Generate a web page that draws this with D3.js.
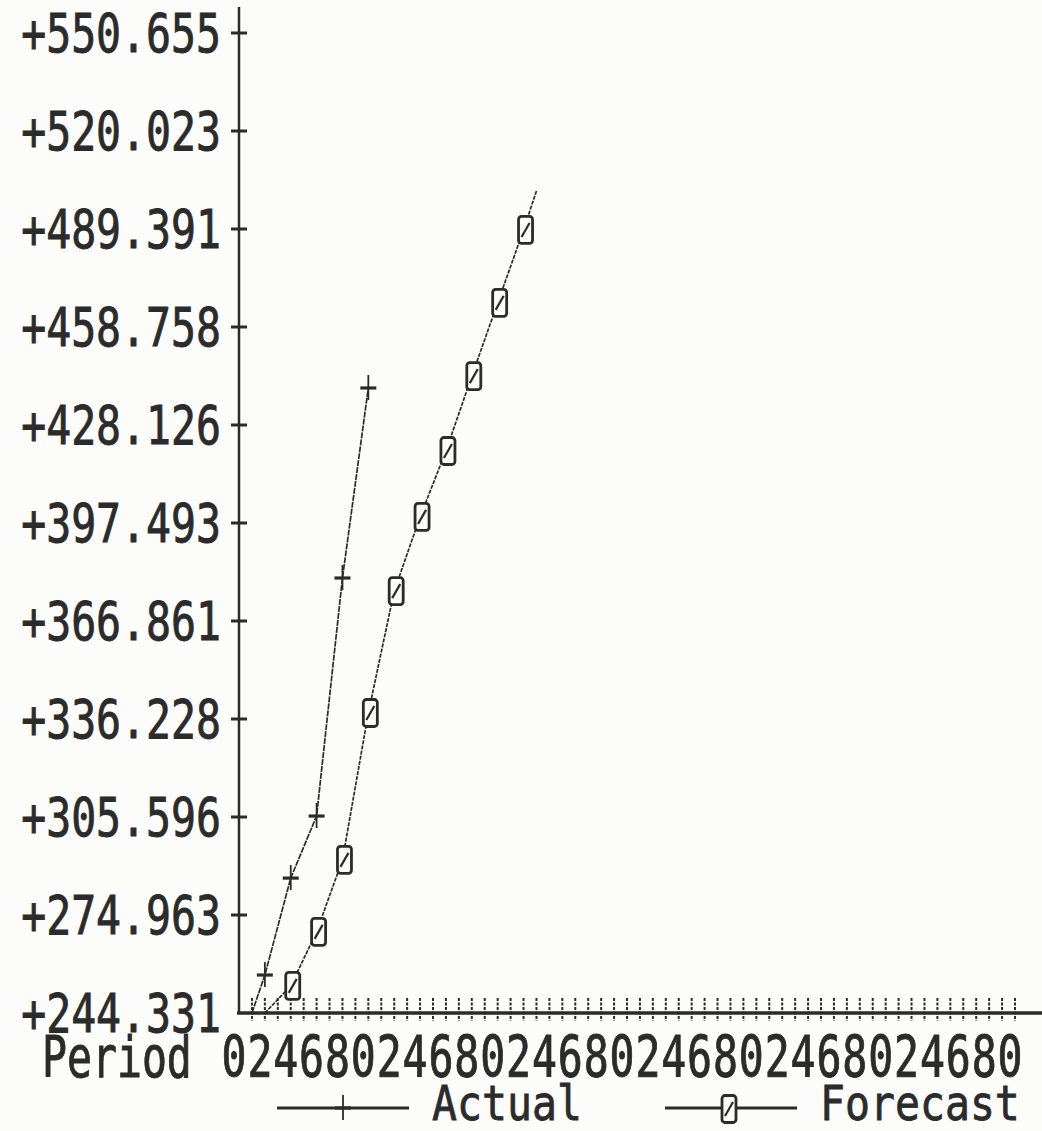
<!DOCTYPE html>
<html>
<head>
<meta charset="utf-8">
<script src="https://cdn.jsdelivr.net/npm/d3@7"></script>
<style>
  html, body { margin: 0; padding: 0; background: #fcfcfb; }
  svg { display: block; }
  text { font-family: "DejaVu Sans Mono", "Liberation Mono", monospace; fill: #2b2b2b; stroke: #2b2b2b; stroke-width: 0.7px; }
</style>
</head>
<body>
<script>
// ---- data ----
const yTickLabels = ["+244.331", "+274.963", "+305.596", "+336.228", "+366.861",
                     "+397.493", "+428.126", "+458.758", "+489.391", "+520.023", "+550.655"];
const yMin = 244.331, yMax = 550.655;
const periodLabels = d3.range(0, 31).map(k => String((2 * k) % 10));   // "0","2","4","6","8",...
const actualPeriods  = [0.5, 1, 2, 3, 4, 5];
const actualValues   = [244.331, 256.2, 286.5, 305.9, 380.3, 439.7];
const forecastPeriods = [1, 2, 3, 4, 5, 6, 7, 8, 9, 10, 11, 11.5];
const forecastValues  = [244.331, 252.8, 269.7, 292.2, 338.1, 376.2, 399.4, 420.0, 443.4, 466.3, 489.1, 501.3];
const seriesNames = ["Actual", "Forecast"];

// ---- layout ----
const W = 1042, H = 1131;
const ink = "#2b2b2b";
const svg = d3.select("body").append("svg").attr("width", W).attr("height", H);
svg.append("rect").attr("width", W).attr("height", H).attr("fill", "#fcfcfb");

const x = d3.scaleLinear().domain([0, 30]).range([239, 1015]);
const yTickVals = yTickLabels.map(s => +s.slice(1));
const y = d3.scaleLinear().domain([yMin, yMax]).range([1013, 33]);

const FS = 41.5, SY = 1.27;
function mono(g, txt, tx, ty, anchor, sy) {
  return g.append("text")
    .attr("transform", `translate(${tx},${ty}) scale(1,${sy || SY})`)
    .attr("text-anchor", anchor || "start")
    .attr("font-size", FS)
    .text(txt);
}

// y axis line
svg.append("line").attr("x1", 239).attr("x2", 239).attr("y1", 7).attr("y2", y(yMin))
  .attr("stroke", ink).attr("stroke-width", 2.5);
// y ticks + labels
yTickVals.forEach((v, i) => {
  if (i > 0) {
    svg.append("line").attr("x1", 231).attr("x2", 247).attr("y1", y(v)).attr("y2", y(v))
      .attr("stroke", ink).attr("stroke-width", 3);
  }
  mono(svg, yTickLabels[i], 221, y(v) + 19, "end");
});

// x axis line
svg.append("line").attr("x1", 237).attr("x2", W).attr("y1", y(yMin)).attr("y2", y(yMin))
  .attr("stroke", ink).attr("stroke-width", 3.5);
// x ticks (every half period)
d3.range(0.5, 30.01, 0.5).forEach(p => {
  svg.append("line").attr("x1", x(p)).attr("x2", x(p))
    .attr("y1", y(yMin) - 15).attr("y2", y(yMin) + 8)
    .attr("stroke", ink).attr("stroke-width", 2).attr("stroke-dasharray", "3,1.5");
});
// x labels
mono(svg, "Period", 42, 1077, "start", 1.36);
periodLabels.forEach((t, k) => {
  mono(svg, t, x(k) - 5, 1077, "middle", 1.36);
});

// ---- series ----
const clip = svg.append("clipPath").attr("id", "plot");
clip.append("rect").attr("x", 239).attr("y", 0).attr("width", W - 239).attr("height", y(yMin));

const line = d3.line().x(d => x(d[0])).y(d => y(d[1]));
const actual = actualPeriods.map((p, i) => [p, actualValues[i]]);
const forecast = forecastPeriods.map((p, i) => [p, forecastValues[i]]);

const plot = svg.append("g").attr("clip-path", "url(#plot)");
plot.append("path").attr("d", line(actual)).attr("fill", "none")
  .attr("stroke", ink).attr("stroke-width", 1.7).attr("stroke-dasharray", "6,1");
plot.append("path").attr("d", line(forecast)).attr("fill", "none")
  .attr("stroke", ink).attr("stroke-width", 1.7).attr("stroke-dasharray", "4,1.2");

function plusMarker(g, cx, cy) {
  const m = g.append("g").attr("transform", `translate(${cx},${cy})`);
  m.append("line").attr("x1", -8).attr("x2", 8).attr("y1", 0).attr("y2", 0)
    .attr("stroke", ink).attr("stroke-width", 3.2);
  m.append("line").attr("x1", 0).attr("x2", 0).attr("y1", -13).attr("y2", 12)
    .attr("stroke", ink).attr("stroke-width", 1.8);
}
function zeroMarker(g, cx, cy) {
  const m = g.append("g").attr("transform", `translate(${cx},${cy})`);
  m.append("rect").attr("x", -7).attr("y", -13.5).attr("width", 14).attr("height", 27).attr("rx", 3)
    .attr("fill", "#fcfcfb").attr("stroke", ink).attr("stroke-width", 2.8);
  m.append("line").attr("x1", -4).attr("x2", 4).attr("y1", 7).attr("y2", -7)
    .attr("stroke", ink).attr("stroke-width", 2.2);
}
const marked = d => Number.isInteger(d[0]) && d[1] > yMin;
actual.filter(marked).forEach(d => plusMarker(plot, x(d[0]), y(d[1])));
forecast.filter(marked).forEach(d => zeroMarker(plot, x(d[0]) + 2, y(d[1])));

// ---- legend ----
const ly = 1108;
svg.append("line").attr("x1", 277).attr("x2", 409).attr("y1", ly).attr("y2", ly)
  .attr("stroke", ink).attr("stroke-width", 3);
plusMarker(svg, 343, ly);
mono(svg, seriesNames[0], 432, 1120, "start", 1.17);
svg.append("line").attr("x1", 665).attr("x2", 797).attr("y1", ly).attr("y2", ly)
  .attr("stroke", ink).attr("stroke-width", 3);
zeroMarker(svg, 729, ly + 1);
mono(svg, seriesNames[1], 820, 1120, "start", 1.17);
</script>
</body>
</html>
